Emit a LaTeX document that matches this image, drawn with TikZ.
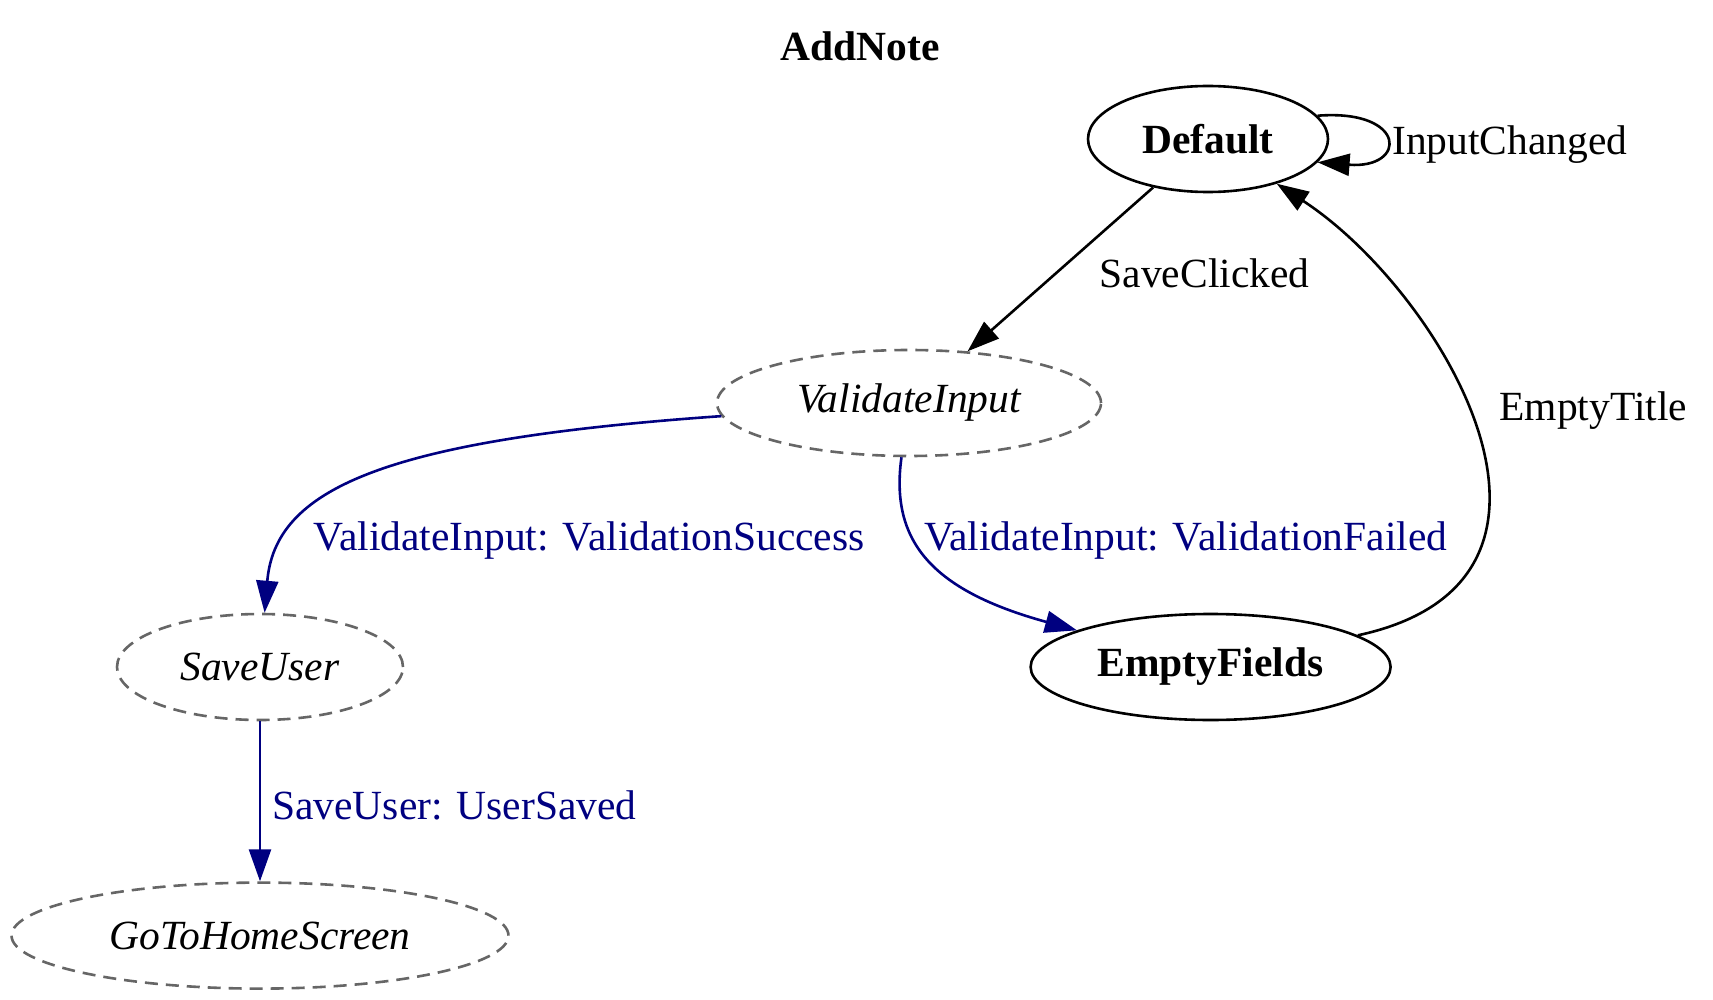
\documentclass[tikz,border=0pt]{standalone}
\usepackage{fontspec}
\setmainfont{Liberation Serif}
\usepackage{xcolor}
\usetikzlibrary{arrows.meta, positioning, shapes.geometric}
\definecolor{edgenavy}{HTML}{000080}
\definecolor{taskgray}{HTML}{666666}

\begin{document}
\begin{tikzpicture}[
  x=0.5pt, y=-0.5pt,
  >={Triangle[length=16pt, width=11pt]},
  line width=1.3pt,
  font=\fontsize{20.75}{25}\selectfont,
  base/.style={ellipse, draw, minimum height=53pt, inner sep=0pt},
  solidstate/.style={base, font=\fontsize{20.75}{25}\selectfont\bfseries},
  taskstate/.style={base, draw=taskgray, dash pattern=on 6.5pt off 4pt, font=\fontsize{20.75}{25}\selectfont\itshape},
  flow/.style={->, edgenavy},
  lbl/.style={inner sep=0pt, anchor=west, yshift=-2pt}
]
\useasboundingbox (0,0) rectangle (1713,1000);

\node[font=\fontsize{20.75}{25}\selectfont\bfseries] (title) at (860,46) {AddNote};

\node[solidstate, minimum width=120pt] (def) at (1208,139) {Default};
\node[taskstate, minimum width=192pt] (vi) at (909,403) {ValidateInput};
\node[taskstate, minimum width=143pt] (su) at (260,667) {SaveUser};
\node[solidstate, minimum width=180pt, right=312.5pt of su] (ef) {EmptyFields};
\node[taskstate, minimum width=248.5pt, below=80pt of su] (gh) {GoToHomeScreen};

\draw[->] (def) -- node[lbl, pos=.5, xshift=19pt]{SaveClicked} (vi);
\draw[->] (def.12) .. controls +(90,-7) and +(90,7) .. node[lbl, xshift=3pt, yshift=-0.8pt]{InputChanged} (def.-12);
\draw[flow] (vi) .. controls (380,440) and (275,490) .. node[lbl, pos=.76, xshift=11pt]{ValidateInput: ValidationSuccess} (su);
\draw[flow] (vi) .. controls (890,540) and (930,590) .. node[lbl, pos=.37, xshift=5pt]{ValidateInput: ValidationFailed} (ef);
\draw[->] (ef) .. controls (1615,580) and (1440,290) .. node[lbl, pos=.54, xshift=16pt]{EmptyTitle} (def);
\draw[flow] (su) -- node[lbl, pos=.5, xshift=5.5pt]{SaveUser: UserSaved} (gh);
\end{tikzpicture}
\end{document}
